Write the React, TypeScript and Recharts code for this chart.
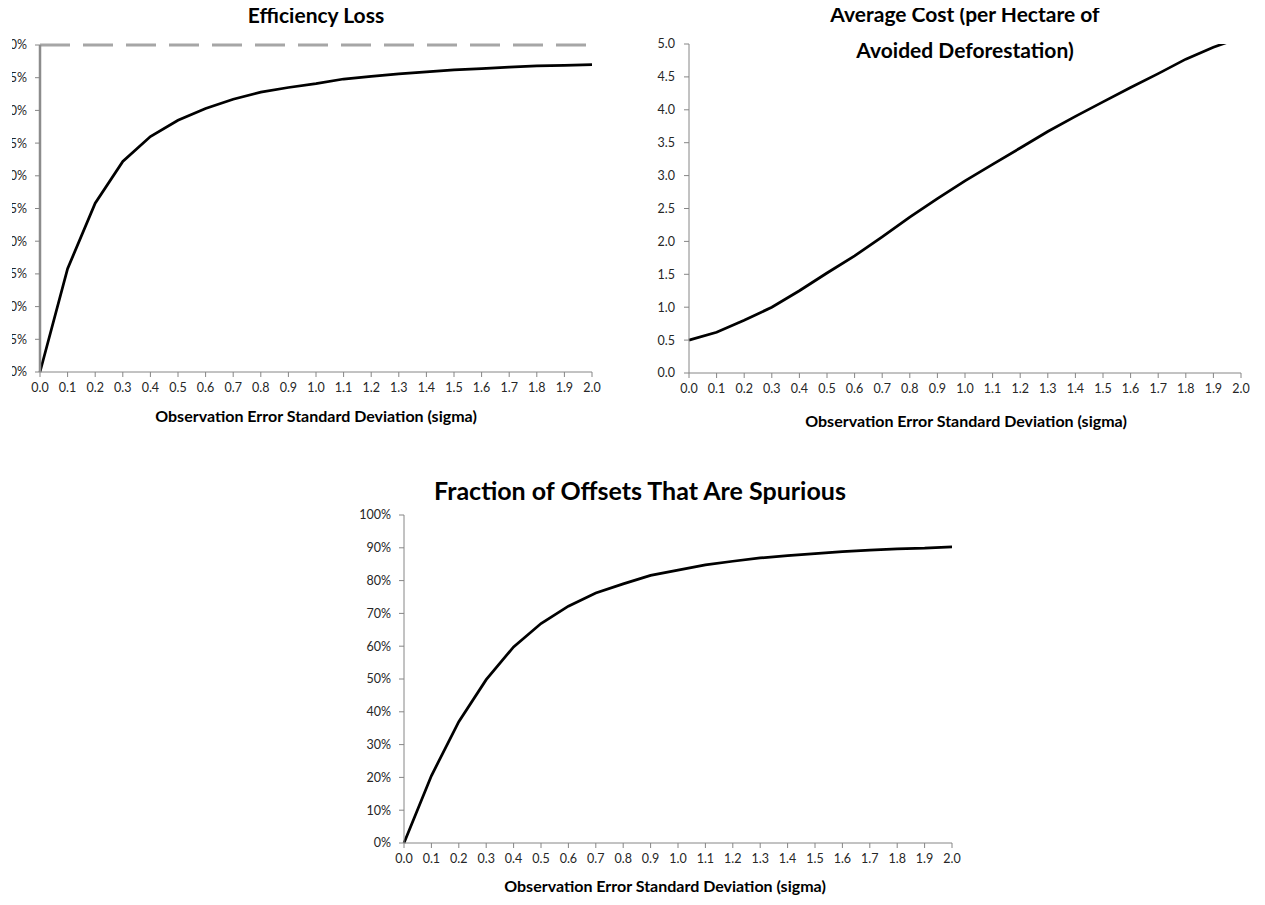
import React from "react";
import { LineChart, Line, XAxis, YAxis, ReferenceLine } from "recharts";

const sigma = ["0.0","0.1","0.2","0.3","0.4","0.5","0.6","0.7","0.8","0.9","1.0","1.1","1.2","1.3","1.4","1.5","1.6","1.7","1.8","1.9","2.0"];
const efficiencyLoss = [0, 15.8, 25.8, 32.2, 36.0, 38.5, 40.3, 41.7, 42.8, 43.5, 44.1, 44.8, 45.2, 45.6, 45.9, 46.2, 46.4, 46.6, 46.8, 46.9, 47.0];
const averageCost = [0.5, 0.62, 0.8, 1.0, 1.25, 1.52, 1.78, 2.07, 2.37, 2.65, 2.92, 3.17, 3.42, 3.67, 3.9, 4.12, 4.34, 4.55, 4.77, 4.95, 5.1];
const spuriousFraction = [0, 20.5, 37.0, 49.8, 59.8, 66.9, 72.2, 76.2, 79.0, 81.6, 83.2, 84.8, 85.9, 86.9, 87.6, 88.2, 88.8, 89.3, 89.7, 89.9, 90.3];

const lossTicks = [0, 5, 10, 15, 20, 25, 30, 35, 40, 45, 50];
const costTicks = [0, 0.5, 1, 1.5, 2, 2.5, 3, 3.5, 4, 4.5, 5];
const spuriousTicks = [0, 10, 20, 30, 40, 50, 60, 70, 80, 90, 100];

const lossData = sigma.map((s, i) => ({ sigma: s, value: efficiencyLoss[i] }));
const costData = sigma.map((s, i) => ({ sigma: s, value: averageCost[i] }));
const spuriousData = sigma.map((s, i) => ({ sigma: s, value: spuriousFraction[i] }));

const FONT = "Lato, 'Open Sans', sans-serif";
const AXIS = "#868686";
const tickStyle = { fontSize: 12.5, fill: "#262626", fontFamily: FONT };
const xTitle = "Observation Error Standard Deviation (sigma)";

const titleStyle: React.CSSProperties = {
  position: "absolute",
  fontFamily: FONT,
  fontWeight: 700,
  fontSize: 21,
  color: "#000",
  textAlign: "center",
  whiteSpace: "nowrap",
  lineHeight: "36px",
};
const axisTitleStyle: React.CSSProperties = {
  position: "absolute",
  fontFamily: FONT,
  fontWeight: 700,
  fontSize: 16,
  color: "#000",
  textAlign: "center",
  whiteSpace: "nowrap",
};

export default function App() {
  return (
    <div style={{ position: "relative", width: 1265, height: 905, margin: -8, overflow: "hidden", background: "#fff" }}>
      {/* Chart 1 */}
      <div style={{ position: "absolute", left: 12, top: 0, width: 620, height: 440, overflow: "hidden" }}>
        <div style={{ position: "absolute", left: -12, top: 0 }}>
          <LineChart width={610} height={440} data={lossData} margin={{ top: 45, right: 18, bottom: 38, left: 0 }}>
            <XAxis
              dataKey="sigma"
              interval={0}
              tick={tickStyle}
              tickSize={5}
              tickMargin={6}
              stroke={AXIS}
              tickLine={{ stroke: AXIS }}
              axisLine={{ stroke: AXIS, strokeWidth: 1 }}
              height={30}
            />
            <YAxis
              width={40}
              domain={[0, 50]}
              ticks={lossTicks}
              interval={0}
              tickFormatter={(v: number) => `${v}%`}
              tick={tickStyle}
              tickSize={5}
              tickMargin={8}
              stroke={AXIS}
              tickLine={{ stroke: AXIS }}
              axisLine={{ stroke: "#8c8c8c", strokeWidth: 2.5 }}
            />
            <ReferenceLine y={50} stroke="#a6a6a6" strokeWidth={3} strokeDasharray="30 13" />
            <Line type="linear" dataKey="value" stroke="#000" strokeWidth={2.75} dot={false} isAnimationActive={false} />
          </LineChart>
        </div>
      </div>
      <div style={{ ...titleStyle, left: 116, width: 400, top: -3 }}>Efficiency Loss</div>
      <div style={{ ...axisTitleStyle, left: 116, width: 400, top: 406 }}>{xTitle}</div>

      {/* Chart 2 */}
      <div style={{ position: "absolute", left: 640, top: 0 }}>
        <LineChart width={620} height={440} data={costData} margin={{ top: 44, right: 19, bottom: 37, left: 0 }}>
          <XAxis
            dataKey="sigma"
            interval={0}
            tick={tickStyle}
            tickSize={5}
            tickMargin={6}
            stroke={AXIS}
            tickLine={{ stroke: AXIS }}
            axisLine={{ stroke: AXIS, strokeWidth: 1 }}
            height={30}
          />
          <YAxis
            width={49}
            domain={[0, 5]}
            ticks={costTicks}
            interval={0}
            allowDataOverflow
            tickFormatter={(v: number) => v.toFixed(1)}
            tick={tickStyle}
            tickSize={5}
            tickMargin={9}
            stroke={AXIS}
            tickLine={{ stroke: AXIS }}
            axisLine={{ stroke: AXIS, strokeWidth: 1 }}
          />
          <Line type="linear" dataKey="value" stroke="#000" strokeWidth={2.75} dot={false} isAnimationActive={false} />
        </LineChart>
      </div>
      <div style={{ ...titleStyle, left: 765, width: 400, top: -4 }}>
        Average Cost (per Hectare of
        <br />
        Avoided Deforestation)
      </div>
      <div style={{ ...axisTitleStyle, left: 766, width: 400, top: 411 }}>{xTitle}</div>

      {/* Chart 3 */}
      <div style={{ position: "absolute", left: 340, top: 470 }}>
        <LineChart width={640} height={435} data={spuriousData} margin={{ top: 45, right: 28, bottom: 32, left: 0 }}>
          <XAxis
            dataKey="sigma"
            interval={0}
            tick={tickStyle}
            tickSize={5}
            tickMargin={6}
            stroke={AXIS}
            tickLine={{ stroke: AXIS }}
            axisLine={{ stroke: AXIS, strokeWidth: 1 }}
            height={30}
          />
          <YAxis
            width={64}
            domain={[0, 100]}
            ticks={spuriousTicks}
            interval={0}
            tickFormatter={(v: number) => `${v}%`}
            tick={tickStyle}
            tickSize={5}
            tickMargin={8}
            stroke={AXIS}
            tickLine={{ stroke: AXIS }}
            axisLine={{ stroke: AXIS, strokeWidth: 1 }}
          />
          <Line type="linear" dataKey="value" stroke="#000" strokeWidth={2.75} dot={false} isAnimationActive={false} />
        </LineChart>
      </div>
      <div style={{ ...titleStyle, fontSize: 25, left: 340, width: 600, top: 472 }}>Fraction of Offsets That Are Spurious</div>
      <div style={{ ...axisTitleStyle, left: 465, width: 400, top: 876 }}>{xTitle}</div>
    </div>
  );
}
